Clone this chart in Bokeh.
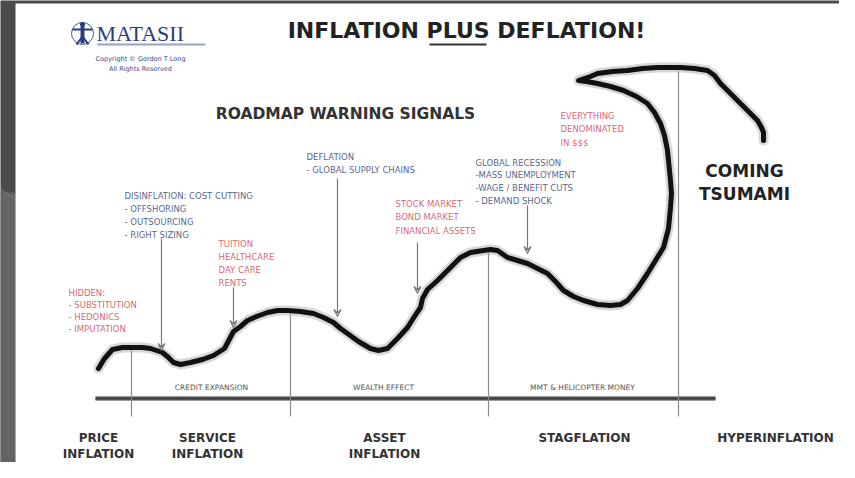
from bokeh.plotting import figure
from bokeh.models import Range1d, Arrow, VeeHead
from bokeh.embed import file_html
from bokeh.resources import INLINE
from bokeh.core.properties import value

# ---- data: the hand-drawn roadmap curve (x = time axis, y = level, screen units) ----
curve_x = [98, 104, 112, 122, 130, 142, 150, 156, 162, 168, 173, 180, 190, 202, 213, 224, 233, 240, 247, 256,
           267, 277, 287, 300, 313, 323, 333, 340, 347, 358, 370, 378, 387, 397, 407, 414, 420, 422, 427, 437,
           440, 450, 460, 470, 483, 490, 497, 507, 517, 527, 537, 547, 555, 563, 573, 583, 597, 610, 620, 627,
           637, 647, 655, 663, 668, 670, 671, 670, 667, 664, 660, 654, 647, 636, 623, 610, 597, 586, 578,
           590, 597, 612, 627, 642, 657, 668, 680, 694, 707, 714, 720, 728, 737, 747, 757, 761, 763, 763]
curve_y = [368, 358, 349, 347, 347, 347, 348, 350, 352, 357, 362, 364, 362, 359, 355, 348, 331, 326, 320, 316,
           312, 310, 310, 311, 313, 317, 322, 328, 333, 341, 348, 350, 348, 338, 327, 316, 307, 298, 289, 280,
           277, 267, 257, 252, 250, 249, 250, 257, 260, 263, 268, 273, 281, 290, 296, 300, 304, 305, 304, 300,
           288, 273, 260, 247, 228, 207, 193, 180, 150, 135, 123, 112, 103, 96, 90, 86, 83, 81, 80,
           76, 73, 71, 70, 68, 67, 67, 67, 68, 70, 75, 83, 91, 100, 110, 120, 127, 132, 140]

# phase boundaries (x) and phase names
boundary_x = [131, 290, 488, 678]
boundary_top = [347, 310, 250, 70]
phase_names = [["PRICE", "INFLATION"], ["SERVICE", "INFLATION"], ["ASSET", "INFLATION"],
               ["STAGFLATION"], ["HYPERINFLATION"]]
phase_center = [98, 207, 384, 584, 775]
policy_names = ["CREDIT EXPANSION", "WEALTH EFFECT", "MMT & HELICOPTER MONEY"]
policy_center = [211, 383, 582]

# warning signals: (lines, colour kind)
signals = [
    (["HIDDEN:", "- SUBSTITUTION", "- HEDONICS", "- IMPUTATION"], "red"),
    (["DISINFLATION: COST CUTTING", "  - OFFSHORING", "  - OUTSOURCING", "  - RIGHT SIZING"], "blue"),
    (["TUITION", "HEALTHCARE", "DAY CARE", "RENTS"], "red"),
    (["DEFLATION", " - GLOBAL SUPPLY CHAINS"], "blue"),
    (["STOCK MARKET", "BOND MARKET", "FINANCIAL ASSETS"], "red"),
    (["GLOBAL RECESSION", "-MASS UNEMPLOYMENT", "-WAGE / BENEFIT CUTS", "- DEMAND SHOCK"], "blue"),
    (["EVERYTHING", "DENOMINATED", "IN $$$"], "red"),
]
signal_pos = [(68, 292, 12.3), (124, 195, 13.0), (218, 243, 13.3), (306, 156, 13.0),
              (395, 203, 13.5), (475, 162, 12.7), (560, 115, 13.5)]
arrow_x = [161, 233, 337, 417, 527]
arrow_from = [238, 287, 178, 242, 205]
arrow_to = [350, 327, 316, 293, 253]

RED = "#d4465a"
BLUE = "#34447a"
FONT = value("DejaVu Sans")

p = figure(width=839, height=462, output_backend="svg", toolbar_location=None,
           x_range=Range1d(0, 839), y_range=Range1d(462, 0), min_border=0,
           background_fill_color="#4b4b4b", border_fill_color="#4b4b4b", outline_line_color=None)
p.axis.visible = False
p.grid.visible = False

# background pieces
p.quad(left=[0], right=[15], top=[192], bottom=[480], fill_color="#646464", line_color=None)
p.line(x=[0, 15], y=[189, 199], line_color="#808080", line_width=1)
p.quad(left=[15], right=[860], top=[3], bottom=[480], fill_color="white", line_color=None)

# axis line and boundaries
p.line(x=[95, 715], y=[398, 398], line_color="#9a9a9a", line_width=5)
p.line(x=[95, 715], y=[398, 398], line_color="#3c3c3c", line_width=2.5)
for bx, bt in zip(boundary_x, boundary_top):
    p.line(x=[bx, bx], y=[bt, 416], line_color="#8a8a8a", line_width=1.2)

# curve with soft edge
p.line(x=curve_x, y=curve_y, line_color="#b0b0b0", line_width=10, line_alpha=0.5,
       line_join="round", line_cap="round")
p.line(x=curve_x, y=curve_y, line_color="#111111", line_width=5,
       line_join="round", line_cap="round")

# arrows
for ax, a0, a1 in zip(arrow_x, arrow_from, arrow_to):
    p.add_layout(Arrow(x_start=ax, y_start=a0, x_end=ax, y_end=a1, line_color="#777777", line_width=1.2,
                       end=VeeHead(size=7, line_color="#777777", line_width=1.2, fill_color=None)))

# signals text
for (lines, kind), (sx, sy, dy) in zip(signals, signal_pos):
    col = RED if kind == "red" else BLUE
    ys = [sy + i * dy for i in range(len(lines))]
    p.text(x=[sx] * len(lines), y=ys, text=lines, text_font=FONT, text_font_size="8.5px",
           text_color=col, text_alpha=0.85, text_baseline="middle", text_align="left")

# policy labels above the axis
p.text(x=policy_center, y=[387] * 3, text=policy_names, text_font=FONT, text_font_size="7.5px",
       text_color="#555555", text_baseline="middle", text_align="center")

# phase names
for names, cx in zip(phase_names, phase_center):
    y0 = 437
    p.text(x=[cx] * len(names), y=[y0 + 16 * i for i in range(len(names))], text=names,
           text_font=FONT, text_font_style="bold", text_font_size="12px", text_color="#333333",
           text_baseline="middle", text_align="center")

# titles
p.text(x=[466], y=[30], text=["INFLATION PLUS DEFLATION!"], text_font=FONT, text_font_style="bold",
       text_font_size="22px", text_color="#222222", text_baseline="middle", text_align="center")
p.line(x=[429, 486], y=[44, 44], line_color="#333333", line_width=2)
p.text(x=[345], y=[113], text=["ROADMAP WARNING SIGNALS"], text_font=FONT, text_font_style="bold",
       text_font_size="15.5px", text_color="#333333", text_baseline="middle", text_align="center")
p.text(x=[744, 744], y=[170, 193], text=["COMING", "TSUMAMI"], text_font=FONT, text_font_style="bold",
       text_font_size="17px", text_color="#222222", text_baseline="middle", text_align="center")

# logo
p.circle(x=[82], y=[33], radius=11, fill_color=None, line_color="#4a5a90", line_width=1)
p.line(x=[72, 92], y=[29, 29], line_color="#2a3a80", line_width=2)
p.line(x=[82, 82], y=[26, 43], line_color="#2a3a80", line_width=4)
p.line(x=[76, 82, 88], y=[44, 36, 44], line_color="#2a3a80", line_width=2)
p.circle(x=[82], y=[24], radius=2.5, fill_color="#2a3a80", line_color=None)
p.text(x=[96], y=[33], text=["MATASII"], text_font=value("Liberation Serif"), text_font_size="22px",
       text_color="#2e3d7c", text_baseline="middle", text_align="left")
p.line(x=[97, 205], y=[44, 44], line_color="#9aa0c0", line_width=2)
p.text(x=[140, 140], y=[58, 68], text=["Copyright \u00a9 Gordon T Long", "All Rights Reserved"],
       text_font=FONT, text_font_size="6.5px", text_color="#3a4a88", text_baseline="middle",
       text_align="center")

open("out.html", "w").write(file_html(p, INLINE))
